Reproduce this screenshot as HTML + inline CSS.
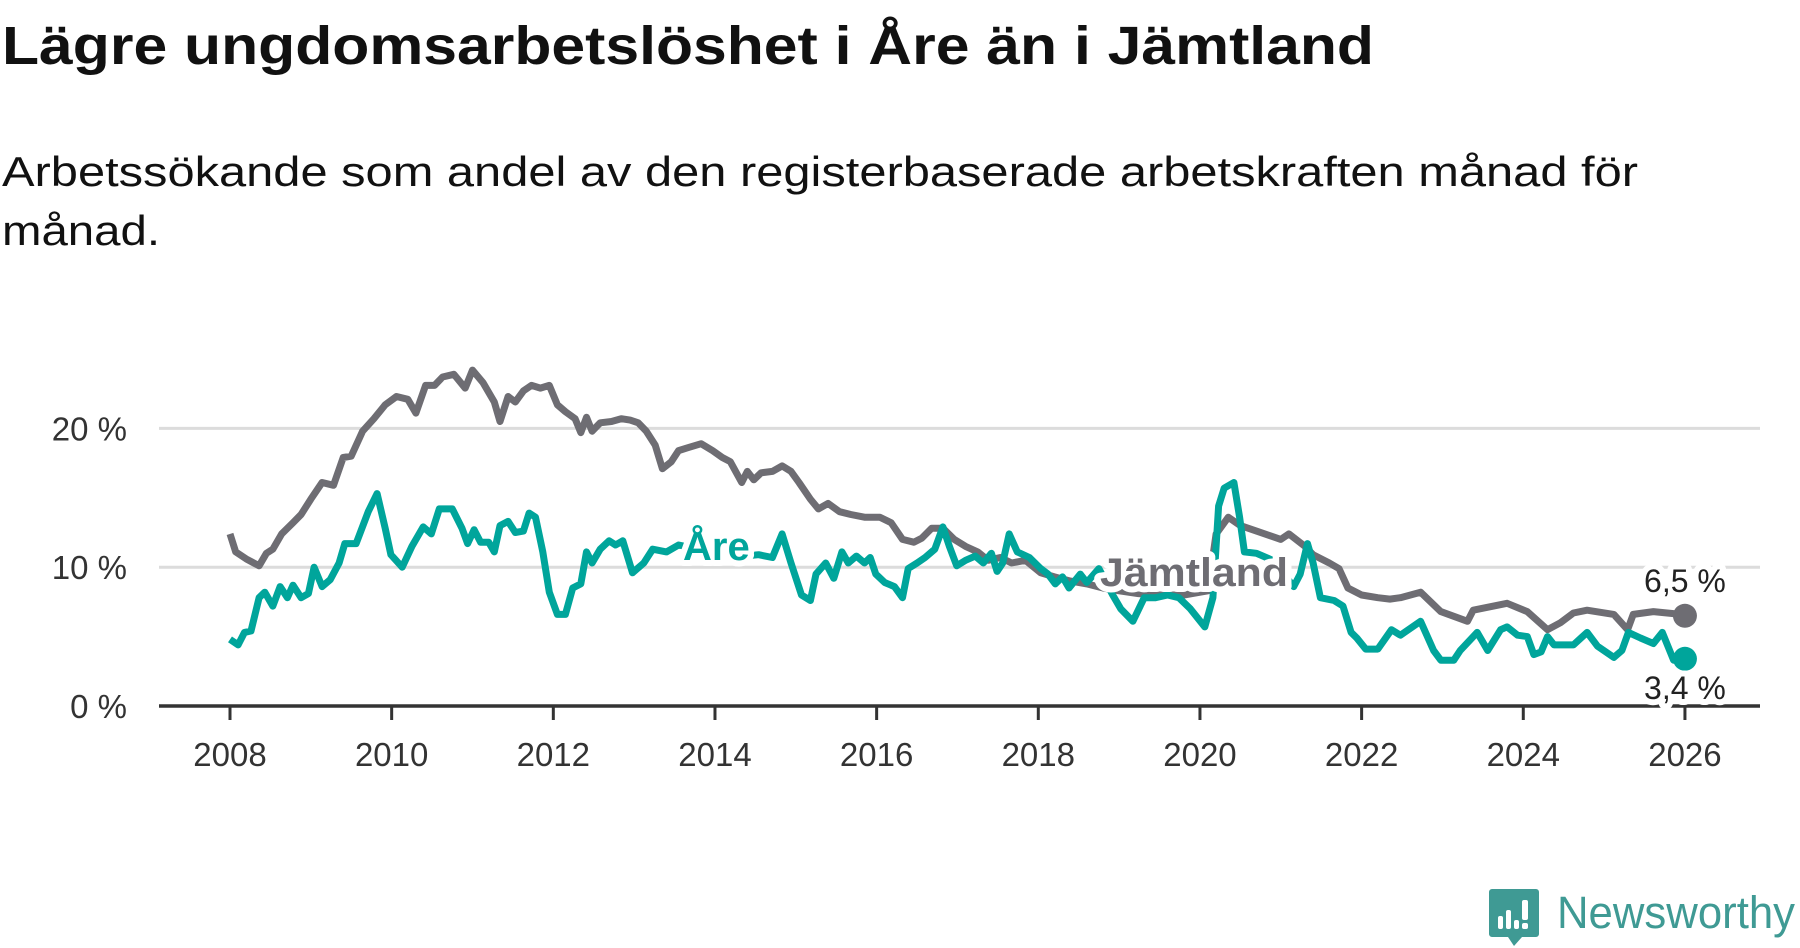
<!DOCTYPE html>
<html><head><meta charset="utf-8"><style>
html,body{margin:0;padding:0;background:#fff;}
svg{display:block;font-family:"Liberation Sans",sans-serif;}
</style></head><body>
<svg id="chart" width="1800" height="948" viewBox="0 0 1800 948" xmlns="http://www.w3.org/2000/svg">
<text x="2" y="64" font-size="54" font-weight="bold" fill="#111" textLength="1372" lengthAdjust="spacingAndGlyphs">Lägre ungdomsarbetslöshet i Åre än i Jämtland</text>
<text x="2" y="186" font-size="42" fill="#111" textLength="1636" lengthAdjust="spacingAndGlyphs">Arbetssökande som andel av den registerbaserade arbetskraften månad för</text>
<text x="2" y="245" font-size="42" fill="#111" textLength="158" lengthAdjust="spacingAndGlyphs">månad.</text>
<g id="grid"></g>
<g id="yticks"></g>
<g id="xticks"></g>
<g id="lines"></g>
<g id="labels"></g>
<g>
<path d="M1492 889 h44 a3 3 0 0 1 3 3 v42 a3 3 0 0 1 -3 3 h-14 l-8 9 l-6 -9 h-16 a3 3 0 0 1 -3 -3 v-42 a3 3 0 0 1 3 -3z" fill="#3f9a94"/>
<rect x="1498" y="916" width="5" height="13" rx="2" fill="#fff"/>
<rect x="1506" y="910" width="5" height="19" rx="2" fill="#fff"/>
<rect x="1514" y="920" width="5" height="9" rx="2" fill="#fff"/>
<rect x="1522" y="900" width="6" height="20" rx="2" fill="#fff"/>
<rect x="1522" y="923" width="6" height="6" rx="2" fill="#fff"/>
<text x="1557" y="928" font-size="45" fill="#3f9a94" textLength="238" lengthAdjust="spacingAndGlyphs">Newsworthy</text>
</g>
</svg>
<script>
const jDates=[2008.0,2008.07,2008.2,2008.36,2008.45,2008.53,2008.64,2008.78,2008.88,2009.0,2009.14,2009.28,2009.4,2009.5,2009.64,2009.78,2009.92,2010.06,2010.2,2010.3,2010.42,2010.53,2010.63,2010.77,2010.91,2011.0,2011.13,2011.27,2011.34,2011.44,2011.53,2011.63,2011.73,2011.84,2011.95,2012.05,2012.15,2012.27,2012.34,2012.41,2012.48,2012.58,2012.72,2012.84,2012.95,2013.05,2013.15,2013.26,2013.35,2013.46,2013.55,2013.66,2013.83,2013.97,2014.09,2014.19,2014.33,2014.4,2014.48,2014.57,2014.71,2014.83,2014.94,2015.04,2015.18,2015.28,2015.4,2015.54,2015.68,2015.85,2016.04,2016.18,2016.32,2016.46,2016.56,2016.68,2016.82,2016.96,2017.1,2017.25,2017.38,2017.53,2017.67,2017.84,2018.03,2018.2,2018.4,2018.6,2018.8,2019.0,2019.24,2019.5,2019.8,2020.1,2020.2,2020.35,2020.5,2020.7,2021.0,2021.1,2021.3,2021.4,2021.6,2021.72,2021.83,2022.0,2022.2,2022.35,2022.48,2022.73,2022.98,2023.31,2023.38,2023.8,2024.05,2024.3,2024.46,2024.62,2024.79,2025.12,2025.29,2025.36,2025.61,2025.95,2026.0];
const jValues=[12.4,11.1,10.6,10.1,11.0,11.3,12.4,13.2,13.8,14.9,16.1,15.9,17.9,18.0,19.8,20.7,21.7,22.3,22.1,21.1,23.1,23.1,23.7,23.9,22.9,24.2,23.3,21.9,20.5,22.3,21.9,22.7,23.1,22.9,23.1,21.7,21.2,20.7,19.7,20.8,19.8,20.4,20.5,20.7,20.6,20.4,19.8,18.8,17.1,17.6,18.4,18.6,18.9,18.4,17.9,17.6,16.1,16.9,16.3,16.8,16.9,17.3,16.9,16.1,14.9,14.2,14.6,14.0,13.8,13.6,13.6,13.2,12.0,11.8,12.1,12.8,12.8,12.0,11.5,11.1,10.5,10.7,10.3,10.5,9.6,9.3,9.0,8.8,8.5,8.3,8.1,8.0,8.0,8.3,12.4,13.6,13.0,12.6,12.0,12.4,11.5,10.9,10.3,9.9,8.5,8.0,7.8,7.7,7.8,8.2,6.8,6.1,6.9,7.4,6.8,5.5,6.0,6.7,6.9,6.6,5.5,6.6,6.8,6.6,6.5];
const aDates=[2008.0,2008.1,2008.18,2008.26,2008.36,2008.43,2008.53,2008.62,2008.71,2008.78,2008.88,2008.97,2009.04,2009.14,2009.24,2009.35,2009.42,2009.56,2009.71,2009.82,2009.92,2009.99,2010.13,2010.25,2010.39,2010.49,2010.59,2010.75,2010.87,2010.94,2011.02,2011.1,2011.2,2011.27,2011.34,2011.44,2011.53,2011.63,2011.7,2011.78,2011.87,2011.95,2012.05,2012.15,2012.24,2012.34,2012.41,2012.48,2012.58,2012.69,2012.77,2012.86,2012.98,2013.12,2013.23,2013.4,2013.55,2013.8,2014.1,2014.35,2014.54,2014.71,2014.83,2014.94,2015.07,2015.18,2015.25,2015.37,2015.47,2015.57,2015.65,2015.75,2015.85,2015.92,2015.99,2016.1,2016.22,2016.32,2016.39,2016.5,2016.6,2016.72,2016.82,2016.9,2016.99,2017.1,2017.22,2017.32,2017.42,2017.49,2017.56,2017.64,2017.74,2017.89,2018.03,2018.12,2018.21,2018.3,2018.38,2018.52,2018.6,2018.75,2018.92,2019.02,2019.17,2019.31,2019.45,2019.6,2019.74,2019.88,2020.06,2020.16,2020.23,2020.3,2020.42,2020.49,2020.55,2020.7,2020.9,2021.16,2021.24,2021.33,2021.4,2021.49,2021.66,2021.77,2021.87,2021.94,2022.05,2022.2,2022.37,2022.48,2022.73,2022.89,2022.98,2023.14,2023.22,2023.43,2023.56,2023.72,2023.8,2023.93,2024.05,2024.13,2024.22,2024.3,2024.38,2024.62,2024.79,2024.92,2025.12,2025.22,2025.3,2025.45,2025.61,2025.72,2025.86,2025.95,2026.0];
const aValues=[4.8,4.4,5.3,5.4,7.8,8.2,7.2,8.6,7.8,8.7,7.8,8.1,10.0,8.6,9.1,10.3,11.7,11.7,14.0,15.3,12.8,10.9,10.0,11.5,12.9,12.4,14.2,14.2,12.8,11.7,12.7,11.8,11.8,11.1,13.0,13.3,12.5,12.6,13.9,13.6,11.1,8.2,6.6,6.6,8.5,8.8,11.1,10.3,11.3,11.9,11.6,11.9,9.6,10.3,11.3,11.1,11.6,11.3,11.0,10.8,10.9,10.7,12.4,10.3,8.0,7.6,9.5,10.3,9.2,11.1,10.3,10.8,10.3,10.7,9.5,8.9,8.6,7.8,9.9,10.3,10.7,11.3,12.9,11.5,10.1,10.5,10.8,10.3,11.0,9.7,10.3,12.4,11.1,10.7,9.9,9.5,8.8,9.3,8.5,9.5,8.9,9.9,8.0,7.0,6.1,7.8,7.8,8.0,7.8,7.0,5.7,7.8,14.4,15.7,16.1,13.6,11.1,11.0,10.5,8.6,9.5,11.7,10.3,7.8,7.6,7.2,5.3,4.9,4.1,4.1,5.5,5.1,6.1,4.0,3.3,3.3,4.0,5.3,4.0,5.5,5.7,5.1,5.0,3.7,3.9,5.0,4.4,4.4,5.3,4.3,3.5,4.0,5.3,4.9,4.5,5.3,3.3,3.8,3.4];
const yTicks=[0,10,20];
const yTickLabels=["0 %","10 %","20 %"];
const xTicks=[2008,2010,2012,2014,2016,2018,2020,2022,2024,2026];
const endLabels=["6,5 %","3,4 %"];
const NS="http://www.w3.org/2000/svg";
function X(t){return 230+(t-2008)*80.83;}
function Y(v){return 706-v*13.88;}
function mk(tag,attrs,parent,txt){const e=document.createElementNS(NS,tag);for(const k in attrs)e.setAttribute(k,attrs[k]);if(txt!==undefined)e.textContent=txt;parent.appendChild(e);return e;}
const grid=document.getElementById('grid'),yt=document.getElementById('yticks'),xt=document.getElementById('xticks'),lines=document.getElementById('lines'),labels=document.getElementById('labels');
yTicks.forEach((v,i)=>{
 if(v>0){const g=mk('line',{x1:159,x2:1760,y1:Y(v),y2:Y(v),stroke:'#dcdcdc','stroke-width':3},grid);
 
 }
 const t=mk('text',{x:127,y:Y(v)+12,'font-size':33,fill:'#333','text-anchor':'end'},yt,yTickLabels[i]);
 
 
});
const ax=mk('line',{x1:159,x2:1760,y1:706,y2:706,stroke:'#333','stroke-width':3.5},xt);


xTicks.forEach(t=>{
 const tk=mk('line',{x1:X(t),x2:X(t),y1:706,y2:720,stroke:'#333','stroke-width':3},xt);
 
 
 const l=mk('text',{x:X(t),y:766,'font-size':33,fill:'#333','text-anchor':'middle'},xt,String(t));
 
 
});
function pts(d,v){return d.map((t,i)=>X(t).toFixed(1)+','+Y(v[i]).toFixed(1)).join(' ');}
const jl=mk('polyline',{points:pts(jDates,jValues),fill:'none',stroke:'#6e6d73','stroke-width':7,'stroke-linejoin':'round'},lines);


const al=mk('polyline',{points:pts(aDates,aValues),fill:'none',stroke:'#00a59b','stroke-width':7,'stroke-linejoin':'round'},lines);


const jd=mk('circle',{cx:X(jDates[jDates.length-1]),cy:Y(jValues[jValues.length-1]),r:12,fill:'#6e6d73'},lines);


const ad=mk('circle',{cx:X(aDates[aDates.length-1]),cy:Y(aValues[aValues.length-1]),r:12,fill:'#00a59b'},lines);


const halo={stroke:'#fff','stroke-width':12,'paint-order':'stroke','stroke-linejoin':'round'};
function lab(x,y,txt,attrs){const a=Object.assign({x:x,y:y},halo,attrs);return mk('text',a,labels,txt);}
const l1=lab(X(2026),Y(jValues[jValues.length-1])-24,endLabels[0],{'font-size':32,fill:'#222','text-anchor':'middle'});


const l2=lab(X(2026),Y(aValues[aValues.length-1])+40,endLabels[1],{'font-size':32,fill:'#222','text-anchor':'middle'});


const l3=lab(683,560,'Åre',{'font-size':40,'font-weight':'bold',fill:'#00a59b'});


const l4=lab(1100,586,'Jämtland',{'font-size':40,'font-weight':'bold',fill:'#6e6d73',textLength:188,lengthAdjust:'spacingAndGlyphs'});


</script>
</body></html>
